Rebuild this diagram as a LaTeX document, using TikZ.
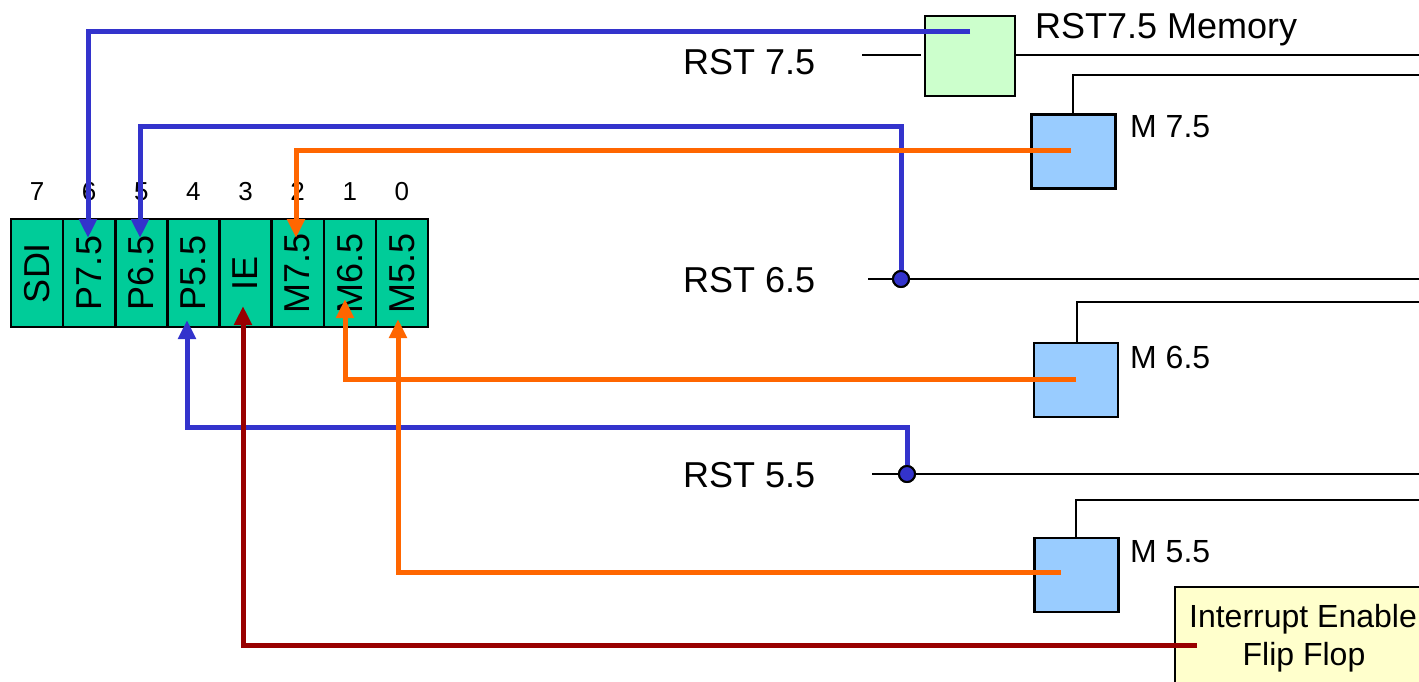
\documentclass[tikz,border=0pt]{standalone}
\usepackage{fontspec}
\setmainfont{Liberation Sans}
\usetikzlibrary{arrows.meta}
\definecolor{regblue}{HTML}{3333CC}
\definecolor{regorange}{HTML}{FF6600}
\definecolor{regred}{HTML}{990000}
\definecolor{reggreen}{HTML}{00CC99}
\definecolor{memgreen}{HTML}{CCFFCC}
\definecolor{maskblue}{HTML}{99CCFF}
\definecolor{ffyellow}{HTML}{FFFFCC}
\begin{document}
\begin{tikzpicture}[x=1pt,y=-1pt,
  cell/.style={draw=black, line width=2.5pt, fill=reggreen, minimum width=108pt,
    minimum height=52.125pt, inner sep=0pt, rotate=90, font=\fontsize{36}{40}\selectfont},
  bitnum/.style={anchor=base, inner sep=0pt, font=\fontsize{26}{30}\selectfont},
  rstlabel/.style={anchor=base west, inner sep=0pt, font=\fontsize{36}{40}\selectfont},
  mlabel/.style={anchor=base west, inner sep=0pt, font=\fontsize{32}{36}\selectfont},
  membox/.style={draw=black, line width=2.5pt, fill=memgreen, minimum width=90pt, minimum height=80pt, inner sep=0pt},
  maskbox/.style={draw=black, line width=2.5pt, fill=maskblue, minimum width=84pt, minimum height=74pt, inner sep=0pt},
  wire/.style={draw=black, line width=2pt},
  sig/.style={line width=5pt, line join=miter, -{Triangle[length=19pt,width=17pt]}},
  bl/.style={sig, draw=regblue, color=regblue},
  orl/.style={sig, draw=regorange, color=regorange},
  rdl/.style={sig, draw=regred, color=regred},
  dot/.style={circle, draw=black, line width=2pt, fill=regblue, minimum size=16pt, inner sep=0pt}
]
\useasboundingbox (0,0) rectangle (1419,682);
\begin{scope}
\clip (0,0) rectangle (1419,682);

% register cells
\foreach \lab [count=\i from 0] in {SDI,P7.5,P6.5,P5.5,IE,M7.5,M6.5,M5.5}{
  \node[cell] (c\i) at ({11+52.125*(\i+0.5)},273) {\lab};
  \pgfmathtruncatemacro{\bit}{7-\i}
  \node[bitnum] (n\i) at ({11+52.125*(\i+0.5)},200) {\bit};
}

% boxes
\node[membox] (mem) at (970,56) {};
\node[maskbox] (m75) at (1073.5,151.5) {};
\node[maskbox] (m65) at (1076,380) {};
\node[maskbox] (m55) at (1076.5,575) {};
\node[draw=black, line width=2.5pt, fill=ffyellow, minimum width=300pt, minimum height=96pt, inner sep=0pt] (ieff) at (1325,635) {};

% labels
\node[rstlabel] (l75) at (683,75) {RST 7.5};
\node[rstlabel] (l65) at (683,292) {RST 6.5};
\node[rstlabel] (l55) at (683,487) {RST 5.5};
\node[rstlabel] (lmem) at (1035,39) {RST7.5 Memory};
\node[mlabel] (lm75) at (1130,138) {M 7.5};
\node[mlabel] (lm65) at (1130,368) {M 6.5};
\node[mlabel] (lm55) at (1130,562) {M 5.5};
\node[anchor=base, inner sep=0pt, font=\fontsize{32}{36}\selectfont] (lie1) at (1303,627) {Interrupt Enable};
\node[anchor=base, inner sep=0pt, font=\fontsize{32}{36}\selectfont] (lie2) at (1304,665) {Flip Flop};

% black wires
\coordinate (w75a) at (862,55);
\coordinate (w75b) at (921,55);
\coordinate (rend75) at (1425,55);
\draw[wire] (w75a) -- (w75b);
\draw[wire] (mem.east |- rend75) -- (rend75);
\coordinate (m75top) at (1073,75);
\coordinate (m75end) at (1425,75);
\draw[wire] (m75top |- m75.north) -- (m75top) -- (m75end);
\coordinate (r65a) at (868,279);
\coordinate (r65b) at (1425,279);
\draw[wire] (r65a) -- (r65b);
\coordinate (m65top) at (1077,302);
\coordinate (m65end) at (1425,302);
\draw[wire] (m65top |- m65.north) -- (m65top) -- (m65end);
\coordinate (r55a) at (872,474);
\coordinate (r55b) at (1425,474);
\draw[wire] (r55a) -- (r55b);
\coordinate (m55top) at (1076,500);
\coordinate (m55end) at (1425,500);
\draw[wire] (m55top |- m55.north) -- (m55top) -- (m55end);

% signal paths
\coordinate (s75) at (970,32);
\coordinate (t6) at (88,238);
\draw[bl] (s75) -| (t6);

\node[dot] (d65) at (901,279) {};
\coordinate (k65) at (901,127);
\coordinate (t5) at (140,238);
\draw[bl] (d65.center) -- (k65) -| (t5);

\node[dot] (d55) at (907,474) {};
\coordinate (k55) at (907,427);
\coordinate (t4) at (187,320);
\draw[bl] (d55.center) -- (k55) -| (t4);

\coordinate (sm75) at (1071,151);
\coordinate (t2) at (296,238);
\draw[orl] (sm75) -| (t2);

\coordinate (sm65) at (1076,379);
\coordinate (t1) at (345,299);
\draw[orl] (sm65) -| (t1);

\coordinate (sm55) at (1061,572);
\coordinate (t0) at (398,319);
\draw[orl] (sm55) -| (t0);

\coordinate (sie) at (1197,645);
\coordinate (t3) at (243,306);
\draw[rdl] (sie) -| (t3);

% redraw dots on top
\node[dot] at (d65) {};
\node[dot] at (d55) {};
\end{scope}
\end{tikzpicture}
\end{document}
